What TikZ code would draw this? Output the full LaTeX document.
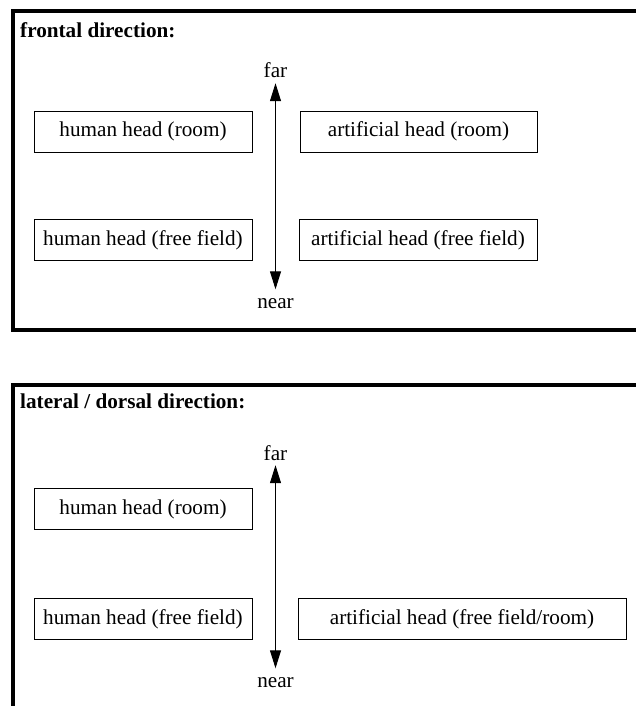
\documentclass[tikz,border=0pt]{standalone}
\usepackage{fontspec}
\setmainfont{Liberation Serif}
\usetikzlibrary{arrows.meta}

\tikzset{
  panel/.style={line width=4pt},
  headbox/.style={draw, line width=0.9pt, minimum height=41pt, inner sep=0pt},
  endlabel/.style={text height=14pt, text depth=0pt, inner sep=5pt, anchor=base},
  heading/.style={font=\bfseries, anchor=base west, inner sep=0pt},
}

\begin{document}
\fontsize{21.2}{25}\selectfont
\begin{tikzpicture}[x=1pt,y=-1pt,>={Triangle[length=18pt,width=11pt]}]
  \useasboundingbox (0,0) rectangle (636,706);
  \clip (0,0) rectangle (636,706);
  \def\mid{275.5}

  % frontal
  \draw[panel] (12.5,11.5) rectangle (660,329.5);
  \node[heading] (front) at (20,38) {frontal direction:};
  \node[headbox, minimum width=218pt] (hroom1) at (143,131.5) {human head (room)};
  \node[headbox, minimum width=237pt] (aroom1) at (418.5,131.5) {artificial head (room)};
  \node[headbox, minimum width=218pt] (hfree1) at (143,240) {human head (free field)};
  \node[headbox, minimum width=238pt] (afree1) at (418,240) {artificial head (free field)};
  \node[endlabel] (far1) at (\mid,78) {far};
  \node[endlabel] (near1) at (\mid,308.5) {near};
  \draw[<->, line width=1pt] (far1) -- (near1);

  % lateral / dorsal
  \draw[panel] (12.5,385) rectangle (660,730);
  \node[heading] (lat) at (20,408) {lateral / dorsal direction:};
  \node[headbox, minimum width=218pt] (hroom2) at (143,509) {human head (room)};
  \node[headbox, minimum width=218pt] (hfree2) at (143,619) {human head (free field)};
  \node[headbox, minimum width=328pt] (afree2) at (462,619) {artificial head (free field/room)};
  \node[endlabel] (far2) at (\mid,460) {far};
  \node[endlabel] (near2) at (\mid,687.5) {near};
  \draw[<->, line width=1pt] (far2) -- (near2);
\end{tikzpicture}
\end{document}
